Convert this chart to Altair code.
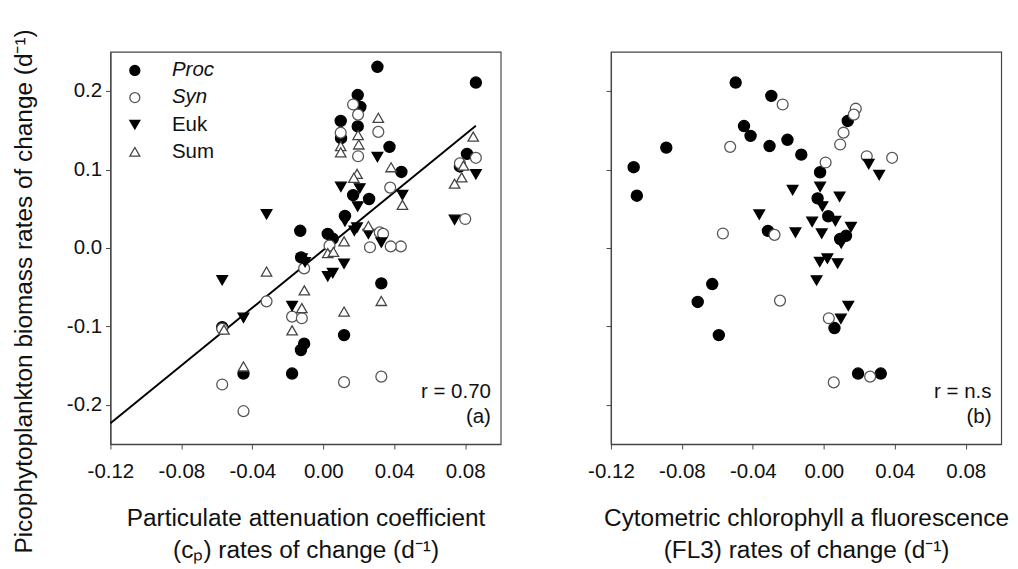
import altair as alt
import pandas as pd

FONT = "Liberation Sans"
GROUPS = ["Proc", "Syn", "Euk", "Sum"]

# ---------------- Panel (a): vs particulate attenuation (cp) ----------------
a_proc_x = [0.0305, 0.0194, 0.0209, 0.0098, 0.0194, 0.0100, 0.0373, 0.0440, 0.0168, 0.0258,
            0.0122, -0.0130, 0.0025, 0.0053, -0.0125, 0.0327, 0.0117, -0.0108, -0.0126, -0.0176,
            -0.0570, -0.0450, 0.0860, 0.0810, 0.0770]
a_proc_y = [0.231, 0.195, 0.180, 0.162, 0.155, 0.140, 0.129, 0.097, 0.0675, 0.0625,
            0.041, 0.022, 0.018, 0.012, -0.012, -0.045, -0.111, -0.122, -0.130, -0.160,
            -0.101, -0.160, 0.211, 0.120, 0.104]

a_syn_x = [0.0168, 0.0196, 0.0310, 0.0098, 0.0196, 0.0377, 0.0318, 0.0337, 0.0035, 0.0263,
           0.0437, 0.0380, -0.0108, -0.0176, -0.0121, 0.0117, 0.0327, -0.0320, -0.0570, -0.0570,
           -0.0450, 0.0860, 0.0770, 0.0800]
a_syn_y = [0.183, 0.170, 0.148, 0.147, 0.117, 0.077, 0.020, 0.018, 0.003, 0.001,
           0.002, 0.002, -0.026, -0.0875, -0.0895, -0.171, -0.164, -0.068, -0.103, -0.174,
           -0.208, 0.115, 0.108, 0.037]

a_euk_x = [0.0305, 0.0099, 0.0205, 0.0194, 0.0446, 0.0122, 0.0175, 0.0190, 0.0254, 0.0327,
           -0.0121, -0.0103, 0.0117, 0.0025, 0.0053, -0.0176, -0.0570, -0.0450, -0.0320, 0.0860,
           0.0740]
a_euk_y = [0.116, 0.078, 0.076, 0.053, 0.0675, 0.034, 0.022, 0.026, 0.018, 0.007,
           -0.0135, -0.018, -0.020, -0.036, -0.032, -0.074, -0.041, -0.089, 0.043, 0.094,
           0.036]

a_sum_x = [0.0310, 0.0196, 0.0098, 0.0098, 0.0200, 0.0382, 0.0190, 0.0172, 0.0446, 0.0254,
           0.0117, 0.0025, 0.0057, -0.0107, 0.0327, -0.0121, 0.0117, -0.0176, -0.0320, -0.0560,
           -0.0450, 0.0845, 0.0780, 0.0740, 0.0790]
a_sum_y = [0.166, 0.144, 0.130, 0.122, 0.132, 0.103, 0.0945, 0.0895, 0.055, 0.028,
           0.0085, -0.0065, -0.005, -0.054, -0.0675, -0.0766, -0.081, -0.105, -0.030, -0.104,
           -0.151, 0.142, 0.090, 0.082, 0.105]

# regression for panel (a)
fit_slope = 1.841
fit_intercept = -0.0026
fit_x = [-0.12, 0.086]

# ---------------- Panel (b): vs cytometric chlorophyll fluorescence (FL3) ----------------
b_proc_x = [-0.0497, -0.0296, -0.0450, -0.0413, -0.0888, -0.0306, -0.0205, -0.1072, -0.1054, -0.0315,
            0.0135, -0.0127, -0.0021, -0.0035, 0.0025, 0.0092, 0.0125, -0.0629, -0.0711, -0.0592,
            0.0060, 0.0193, 0.0321]
b_proc_y = [0.211, 0.194, 0.1555, 0.143, 0.128, 0.130, 0.138, 0.103, 0.0667, 0.0218,
            0.162, 0.119, 0.0966, 0.0633, 0.0405, 0.0115, 0.0156, -0.0459, -0.0688, -0.111,
            -0.102, -0.160, -0.160]

b_syn_x = [-0.0232, -0.0528, -0.0569, -0.0278, 0.0180, 0.0169, 0.0111, 0.0092, 0.0010, 0.0242,
           0.0385, -0.0247, 0.0028, 0.0261, 0.0056]
b_syn_y = [0.183, 0.129, 0.0185, 0.0168, 0.1776, 0.170, 0.147, 0.132, 0.109, 0.117,
           0.115, -0.067, -0.0895, -0.164, -0.1713]

b_euk_x = [-0.0364, 0.0253, 0.0312, -0.0176, -0.0021, -0.0008, 0.0089, 0.0065, -0.0066, -0.0160,
           -0.0012, 0.0153, 0.0098, -0.0023, 0.0020, 0.0078, -0.0041, 0.0138, 0.0096]
b_euk_y = [0.0426, 0.107, 0.093, 0.0738, 0.078, 0.053, 0.0654, 0.0343, 0.0334, 0.0197,
           0.0185, 0.0268, 0.006, -0.0177, -0.0135, -0.0197, -0.0413, -0.0738, -0.0903]

x_ticks = [-0.12, -0.08, -0.04, 0.00, 0.04, 0.08]
y_ticks = [-0.2, -0.1, 0.0, 0.1, 0.2]


def table(series):
    rows = []
    for g, xs, ys in series:
        for xv, yv in zip(xs, ys):
            rows.append({"x": xv, "y": yv, "group": g})
    return pd.DataFrame(rows)


df_a = table([("Proc", a_proc_x, a_proc_y), ("Syn", a_syn_x, a_syn_y),
              ("Euk", a_euk_x, a_euk_y), ("Sum", a_sum_x, a_sum_y)])
df_b = table([("Proc", b_proc_x, b_proc_y), ("Syn", b_syn_x, b_syn_y),
              ("Euk", b_euk_x, b_euk_y)])
df_fit = pd.DataFrame({"x": fit_x, "y": [fit_intercept + fit_slope * v for v in fit_x]})

W, H = 400, 402
xscale = alt.Scale(domain=[-0.12, 0.10], nice=False, zero=False)
yscale = alt.Scale(domain=[-0.25, 0.25], nice=False, zero=False)

shape_scale = alt.Scale(domain=GROUPS, range=["circle", "circle", "triangle-down", "triangle-up"])
fill_scale = alt.Scale(domain=GROUPS, range=["#000000", "#ffffff", "#000000", "#ffffff"])
stroke_scale = alt.Scale(domain=GROUPS, range=["#000000", "#555555", "#000000", "#444444"])
size_scale = alt.Scale(domain=GROUPS, range=[130, 115, 120, 110])

minus_fix = "replace(datum.label, '\u2212', '-')"
AX = dict(labelFont=FONT, titleFont=FONT, labelFontSize=21, titleFontSize=25,
          labelColor="#111", titleColor="#111", titleFontWeight="normal",
          grid=False, tickSize=5, tickColor="#444", domainColor="#444", domainWidth=1.2,
          labelFlush=False, labelOverlap=False)


def x_axis(title):
    return alt.Axis(values=x_ticks, format=".2f", labelExpr=minus_fix, title=title,
                    labelPadding=12, titlePadding=25, titleLineHeight=33, **AX)


def points(df, xtitle, ytitle, show_y_labels):
    if show_y_labels:
        yaxis = alt.Axis(values=y_ticks, format=".1f", labelExpr=minus_fix, title=ytitle,
                         labelPadding=4, titlePadding=31, titleY=245, **AX)
    else:
        yaxis = alt.Axis(values=y_ticks, labels=False, title=None, **AX)
    return alt.Chart(df).mark_point(opacity=1, strokeWidth=1.3).encode(
        x=alt.X("x:Q", scale=xscale, axis=x_axis(xtitle)),
        y=alt.Y("y:Q", scale=yscale, axis=yaxis),
        shape=alt.Shape("group:N", scale=shape_scale, legend=None),
        fill=alt.Fill("group:N", scale=fill_scale, legend=None),
        stroke=alt.Stroke("group:N", scale=stroke_scale, legend=None),
        size=alt.Size("group:N", scale=size_scale, legend=None),
    )


def label(text, px, py, italic=False):
    return alt.Chart(pd.DataFrame({"t": [text]})).mark_text(
        align="right", baseline="middle", font=FONT, fontSize=21, color="#111",
        fontStyle="italic" if italic else "normal"
    ).encode(x=alt.value(px), y=alt.value(py), text="t:N")


# manual legend (Proc/Syn italic, Euk/Sum upright)
legend_layers = []
leg_shapes = ["circle", "circle", "triangle-down", "triangle-up"]
leg_fill = ["#000000", "#ffffff", "#000000", "#ffffff"]
leg_stroke = ["#000000", "#555555", "#000000", "#444444"]
for i, g in enumerate(GROUPS):
    ly = 19 + 27.8 * i
    ldf = pd.DataFrame({"t": [g]})
    legend_layers.append(
        alt.Chart(ldf).mark_point(opacity=1, strokeWidth=1.3, size=105).encode(
            x=alt.value(25), y=alt.value(ly), shape=alt.value(leg_shapes[i]),
            fill=alt.value(leg_fill[i]), stroke=alt.value(leg_stroke[i]))
    )
    legend_layers.append(
        alt.Chart(ldf).mark_text(align="left", baseline="middle", font=FONT, fontSize=21,
                                 color="#111",
                                 fontStyle="italic" if g in ("Proc", "Syn") else "normal").encode(
            x=alt.value(63), y=alt.value(ly), text="t:N")
    )

fit_line = alt.Chart(df_fit).mark_line(color="#000", strokeWidth=2).encode(
    x=alt.X("x:Q", scale=xscale), y=alt.Y("y:Q", scale=yscale))

ytitle = "Picophytoplankton biomass rates of change (d\u207b\u00b9)"
panel_a = alt.layer(
    fit_line,
    points(df_a, ["Particulate attenuation coefficient", "(c\u209a) rates of change (d\u207b\u00b9)"],
           ytitle, True),
    *legend_layers,
    label("r = 0.70", 390, 349),
    label("(a)", 390, 374),
).properties(width=W, height=H)

panel_b = alt.layer(
    points(df_b, ["Cytometric chlorophyll a fluorescence", "(FL3) rates of change (d\u207b\u00b9)"],
           ytitle, False),
    label("r = n.s", 390, 349),
    label("(b)", 390, 374),
).properties(width=W, height=H)

chart = alt.hconcat(panel_a, panel_b, spacing=87).properties(
    padding={"left": 3, "top": 13, "right": 0, "bottom": 0},
    background="white",
).configure_view(stroke="#444", strokeWidth=1.2)

chart.save("out.html", embed_options={"renderer": "svg", "actions": False})
